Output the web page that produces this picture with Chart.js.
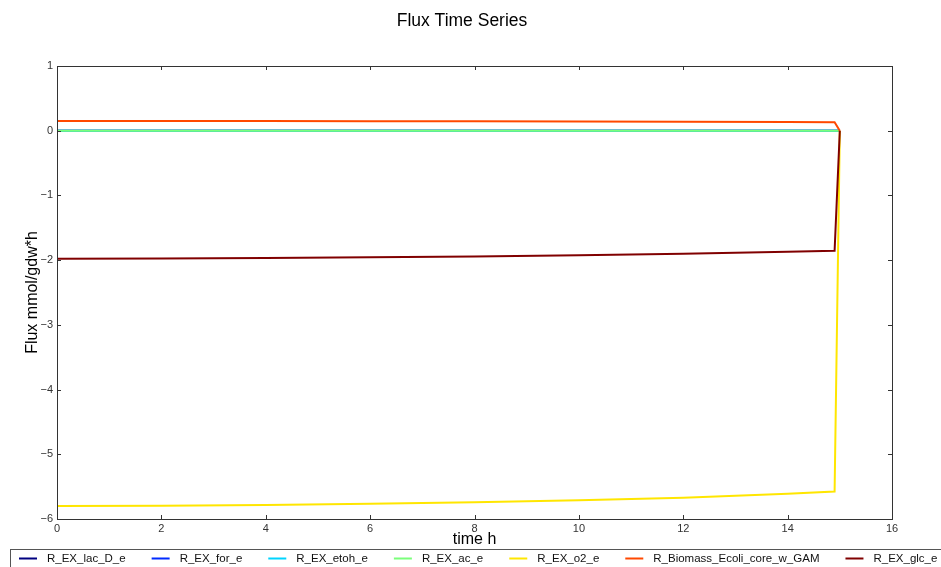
<!DOCTYPE html>
<html>
<head>
<meta charset="utf-8">
<script src="https://cdn.jsdelivr.net/npm/chart.js@4.4.1/dist/chart.umd.min.js"></script>
<style>
  html, body { margin: 0; padding: 0; background: #ffffff; }
  #wrap { position: relative; width: 941px; height: 567px; overflow: hidden; }
</style>
</head>
<body>
<div id="wrap"><canvas id="chart" width="941" height="567"></canvas></div>
<script>
// Simulation time points (h)
const times = [0, 2, 4, 6, 8, 10, 12, 14, 14.9, 15];

// Exchange / biomass fluxes (mmol/gdw*h)
const R_EX_lac_D_e = [0, 0, 0, 0, 0, 0, 0, 0, 0, 0];
const R_EX_for_e   = [0, 0, 0, 0, 0, 0, 0, 0, 0, 0];
const R_EX_etoh_e  = [0, 0, 0, 0, 0, 0, 0, 0, 0, 0];
const R_EX_ac_e    = [0, 0, 0, 0, 0, 0, 0, 0, 0, 0];
const R_EX_o2_e    = [-5.80, -5.795, -5.785, -5.765, -5.74, -5.71, -5.67, -5.61, -5.575, 0];
const R_Biomass_Ecoli_core_w_GAM = [0.150, 0.150, 0.149, 0.148, 0.146, 0.143, 0.139, 0.134, 0.131, 0];
const R_EX_glc_e   = [-1.98, -1.975, -1.967, -1.957, -1.943, -1.924, -1.90, -1.87, -1.855, 0];

const seriesNames = ['R_EX_lac_D_e', 'R_EX_for_e', 'R_EX_etoh_e', 'R_EX_ac_e', 'R_EX_o2_e', 'R_Biomass_Ecoli_core_w_GAM', 'R_EX_glc_e'];
const seriesValues = [R_EX_lac_D_e, R_EX_for_e, R_EX_etoh_e, R_EX_ac_e, R_EX_o2_e, R_Biomass_Ecoli_core_w_GAM, R_EX_glc_e];
// jet colormap sampled at 7 evenly spaced points
const seriesColors = ['#000080', '#002bff', '#00d4ff', '#7bff7b', '#ffe600', '#ff4800', '#800000'];

const xTicks = [0, 2, 4, 6, 8, 10, 12, 14, 16];
const yTicks = [-6, -5, -4, -3, -2, -1, 0, 1];

const FONT = '"Liberation Sans", Arial, sans-serif';
const fmt = v => (v < 0 ? '\u2212' + Math.abs(v) : String(v));

const datasets = seriesNames.map((name, i) => ({
  label: name,
  data: times.map((t, k) => ({ x: t, y: seriesValues[i][k] })),
  borderColor: seriesColors[i],
  backgroundColor: seriesColors[i],
  borderWidth: 2,
  pointRadius: 0,
  showLine: true,
  fill: false,
  tension: 0,
  // later series are painted over earlier ones
  order: seriesNames.length - i
}));

// Frame, inward ticks, title, axis labels and bottom legend
const decorations = {
  id: 'decorations',
  afterDatasetsDraw(chart) {
    const { ctx, chartArea: a, scales } = chart;
    ctx.save();
    ctx.strokeStyle = '#333333';
    ctx.lineWidth = 1;
    ctx.strokeRect(Math.round(a.left) + 0.5, Math.round(a.top) + 0.5,
                   Math.round(a.right - a.left), Math.round(a.bottom - a.top));
    ctx.beginPath();
    const tl = 4;
    xTicks.forEach(v => {
      const px = Math.round(scales.x.getPixelForValue(v)) + 0.5;
      ctx.moveTo(px, a.bottom); ctx.lineTo(px, a.bottom - tl);
      ctx.moveTo(px, a.top); ctx.lineTo(px, a.top + tl);
    });
    yTicks.forEach(v => {
      const py = Math.round(scales.y.getPixelForValue(v)) + 0.5;
      ctx.moveTo(a.left, py); ctx.lineTo(a.left + tl, py);
      ctx.moveTo(a.right, py); ctx.lineTo(a.right - tl, py);
    });
    ctx.stroke();
    ctx.restore();
  },
  afterDraw(chart) {
    const { ctx, chartArea: a } = chart;
    ctx.save();
    ctx.fillStyle = '#000000';
    ctx.textAlign = 'center';
    ctx.textBaseline = 'middle';
    ctx.font = '17.5px ' + FONT;
    ctx.fillText('Flux Time Series', 462, 21);

    ctx.font = '16px ' + FONT;
    ctx.fillText('time h', (a.left + a.right) / 2, 540);

    ctx.save();
    ctx.translate(33, (a.top + a.bottom) / 2);
    ctx.rotate(-Math.PI / 2);
    ctx.fillText('Flux mmol/gdw*h', 0, 0);
    ctx.restore();

    // legend box (runs past the canvas edge)
    ctx.fillStyle = '#ffffff';
    ctx.fillRect(10.5, 549.5, 960, 40);
    ctx.strokeStyle = '#555555';
    ctx.lineWidth = 1;
    ctx.strokeRect(10.5, 549.5, 960, 40);

    ctx.font = '11.5px ' + FONT;
    ctx.textAlign = 'left';
    const yMid = 558.5;
    let x = 19;
    seriesNames.forEach((name, i) => {
      ctx.strokeStyle = seriesColors[i];
      ctx.lineWidth = 2;
      ctx.beginPath();
      ctx.moveTo(x, yMid); ctx.lineTo(x + 18, yMid);
      ctx.stroke();
      ctx.fillStyle = '#111111';
      ctx.fillText(name, x + 28, yMid);
      x += 28 + ctx.measureText(name).width + 26;
    });
    ctx.restore();
  }
};

new Chart(document.getElementById('chart'), {
  type: 'scatter',
  data: { datasets },
  options: {
    responsive: false,
    animation: false,
    layout: { padding: { left: 0, right: 49, top: 66, bottom: 0 } },
    plugins: { legend: { display: false }, title: { display: false }, tooltip: { enabled: false } },
    scales: {
      x: {
        type: 'linear', min: 0, max: 16,
        afterBuildTicks: s => { s.ticks = xTicks.map(v => ({ value: v })); },
        afterFit: s => { s.height = 48; },
        grid: { display: false, drawTicks: false },
        border: { display: false },
        ticks: { padding: 3, color: '#333333', font: { family: FONT, size: 11 }, callback: v => fmt(v), maxRotation: 0 }
      },
      y: {
        type: 'linear', min: -6, max: 1,
        afterBuildTicks: s => { s.ticks = yTicks.map(v => ({ value: v })); },
        afterFit: s => { s.width = 57; },
        grid: { display: false, drawTicks: false },
        border: { display: false },
        ticks: { padding: 4, color: '#333333', font: { family: FONT, size: 11 }, callback: v => fmt(v) }
      }
    }
  },
  plugins: [decorations]
});
</script>
</body>
</html>
